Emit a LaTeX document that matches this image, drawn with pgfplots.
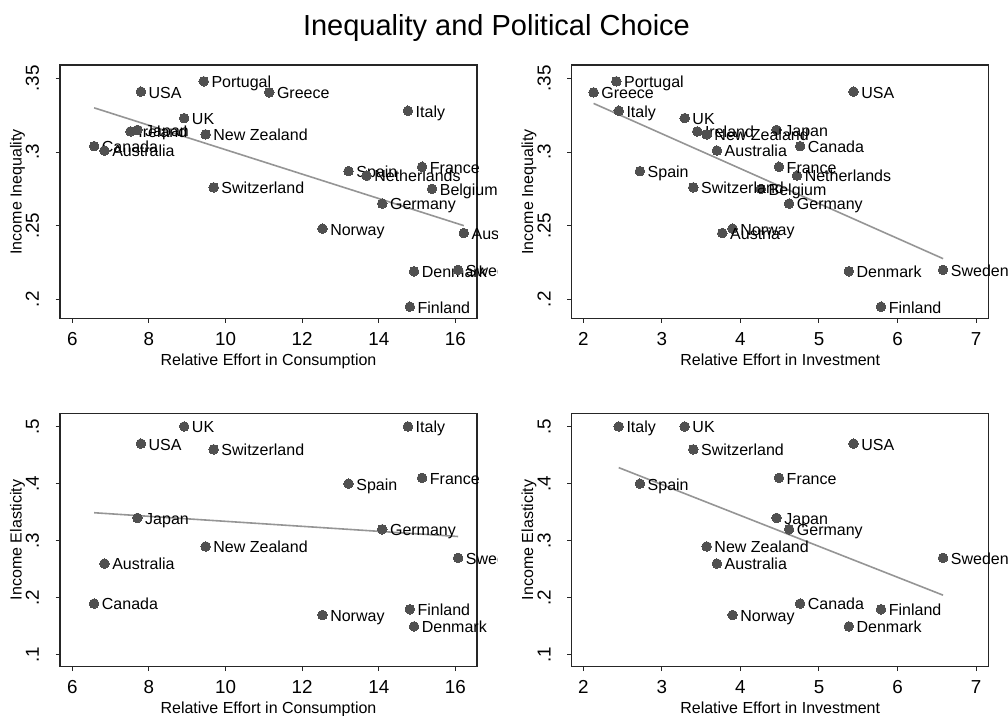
\documentclass[border=0pt]{standalone}
\usepackage{fontspec}
\setmainfont{Liberation Sans}
\usepackage{pgfplots}
\usepackage{pgfplotstable}
\pgfplotsset{compat=1.18}
\definecolor{mk}{HTML}{505050}
\definecolor{fitc}{HTML}{959595}

\pgfplotstableread{
country cons inv ineq elas
USA 7.79 5.44 .341 .47
Portugal 9.43 2.42 .348 nan
Greece 11.14 2.13 .3405 nan
Italy 14.76 2.45 .328 .50
UK 8.92 3.29 .323 .50
Ireland 7.52 3.45 .314 nan
Japan 7.70 4.46 .315 .34
{New Zealand} 9.48 3.57 .312 .29
Canada 6.57 4.76 .304 .19
Australia 6.84 3.70 .301 .26
Spain 13.21 2.72 .287 .40
Netherlands 13.68 4.72 .284 nan
France 15.13 4.49 .290 .41
Belgium 15.39 4.26 .275 nan
Switzerland 9.69 3.40 .276 .46
Germany 14.09 4.62 .265 .32
Norway 12.53 3.90 .248 .17
Austria 16.22 3.77 .245 nan
Denmark 14.92 5.38 .219 .15
Sweden 16.07 6.58 .220 .27
Finland 14.81 5.79 .195 .18
}\data

\pgfplotsset{
  panel/.style={
    scale only axis, width=208.5pt, height=126.7pt,
    anchor=south west, clip=false,
    axis line style={line width=0.6pt, black!85},
    tick align=outside, major tick length=2.2pt,
    xtick pos=bottom, ytick pos=left,
    every tick/.style={black!85, line width=0.5pt},
    /pgf/number format/assume math mode=true,
    ticklabel style={font=\fontsize{9.4}{11}\selectfont},
    xticklabel style={anchor=base},
    xticklabel shift=11.4pt,
    yticklabel style={rotate=90, anchor=base},
    yticklabel shift=8.35pt,
    label style={font=\fontsize{8}{10}\selectfont},
    xlabel style={at={(axis description cs:0.5,-0.186)}, anchor=base},
    ylabel style={at={(axis description cs:-0.0923,0.5)}, anchor=base},
    nodes near coords style={anchor=base west, inner sep=0pt, xshift=3.9pt,
      yshift=-3.2pt, font=\fontsize{8}{9}\selectfont, text=black},
  },
  pts/.style={only marks, mark=*, mark size=2.4pt,
    mark options={fill=mk, draw=mk, line width=0pt},
    nodes near coords, point meta=explicit symbolic},
  fitl/.style={fitc, line width=0.8pt, no marks},
  topy/.style={ymin=0.18697, ymax=0.35902,
    ytick={0.2,0.25,0.3,0.35}, yticklabels={.2,.25,.3,.35},
    ylabel={Income Inequality}},
  boty/.style={ymin=0.0795, ymax=0.5231,
    ytick={0.1,0.2,0.3,0.4,0.5}, yticklabels={.1,.2,.3,.4,.5},
    ylabel={Income Elasticity}},
  consx/.style={xmin=5.679, xmax=16.563, xtick={6,8,10,12,14,16},
    xlabel={Relative Effort in Consumption}},
  invx/.style={xmin=1.8515, xmax=7.161, xtick={2,3,4,5,6,7},
    xlabel={Relative Effort in Investment}},
}

\begin{document}
\begin{tikzpicture}
\useasboundingbox (0,0) rectangle (504pt,358pt);
\node[anchor=base, font=\fontsize{14.5}{17}\selectfont] at (248.25pt,340pt) {Inequality and Political Choice};

% top left
\begin{scope}
\clip (-20pt,-20pt) rectangle (248.6pt,380pt);
\begin{axis}[panel, topy, consx, at={(30pt,198.75pt)}]
\addplot[pts] table[x=cons, y=ineq, meta=country] {\data};
\addplot[fitl] coordinates {(6.57,0.330) (16.22,0.250)};
\end{axis}
\end{scope}

% top right
\begin{axis}[panel, topy, invx, at={(285.85pt,198.75pt)}]
\addplot[pts] table[x=inv, y=ineq, meta=country] {\data};
\addplot[fitl] coordinates {(2.13,0.333) (6.58,0.2276)};
\end{axis}

% bottom left
\begin{scope}
\clip (-20pt,-20pt) rectangle (248.6pt,380pt);
\begin{axis}[panel, boty, consx, at={(30pt,24.65pt)}]
\addplot[pts] table[x=cons, y=elas, meta=country] {\data};
\addplot[fitl] coordinates {(6.57,0.349) (16.07,0.3074)};
\end{axis}
\end{scope}

% bottom right
\begin{axis}[panel, boty, invx, at={(285.85pt,24.65pt)}]
\addplot[pts] table[x=inv, y=elas, meta=country] {\data};
\addplot[fitl] coordinates {(2.45,0.428) (6.58,0.2047)};
\end{axis}
\end{tikzpicture}
\end{document}
